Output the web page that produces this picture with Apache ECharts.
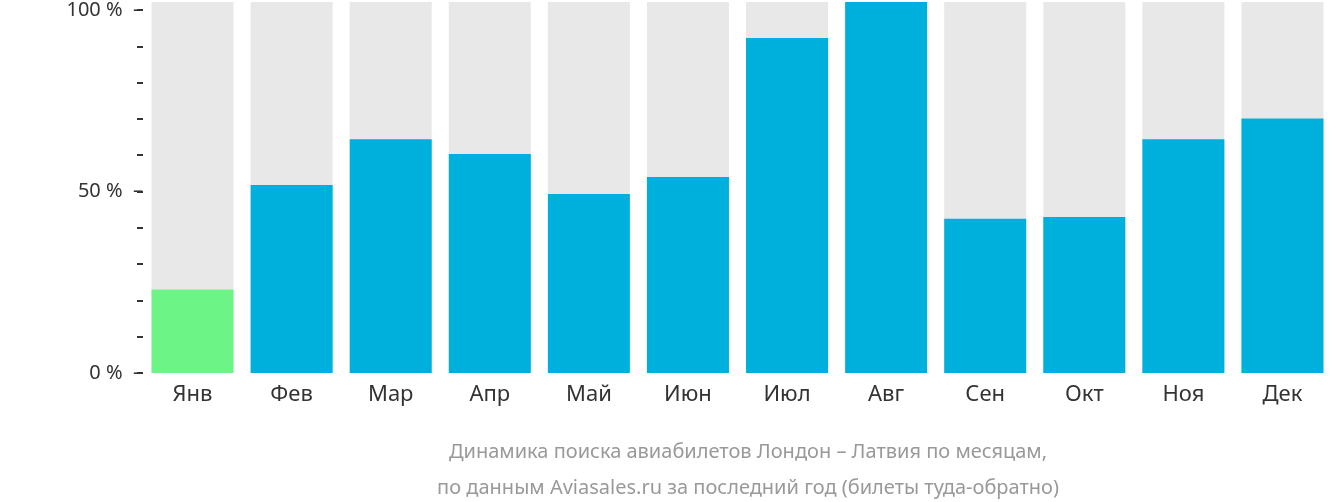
<!DOCTYPE html>
<html>
<head>
<meta charset="utf-8">
<script src="https://cdn.jsdelivr.net/npm/echarts@6/dist/echarts.min.js"></script>
<style>html,body{margin:0;padding:0;background:#fff}#chart{width:1332px;height:502px}</style>
</head>
<body>
<div id="chart"></div>
<script>
var months = ['Янв', 'Фев', 'Мар', 'Апр', 'Май', 'Июн', 'Июл', 'Авг', 'Сен', 'Окт', 'Ноя', 'Дек'];
var values = [23, 51.8, 64.4, 60.3, 49.3, 54, 92.3, 102.2, 42.5, 43, 64.4, 70.1];
var lowMonth = 0;
var yTicks = [0, 10, 20, 30, 40, 50, 60, 70, 80, 90, 100];
var yLabels = [0, 50, 100];

var chart = echarts.init(document.getElementById('chart'));
var option = {
	animation: false,
	grid: { left: 143, right: -11, top: 0, bottom: 129, containLabel: false },
	title: {
		text: 'Динамика поиска авиабилетов Лондон – Латвия по месяцам,\nпо данным Aviasales.ru за последний год (билеты туда-обратно)',
		left: 743, textAlign: 'center', top: 429,
		textStyle: { color: '#999', fontSize: 20, fontWeight: 'normal', fontFamily: 'Noto Sans', lineHeight: 36 }
	},
	xAxis: {
		type: 'category',
		data: months,
		axisLine: { show: false },
		axisTick: { show: false },
		axisLabel: { color: '#333', fontSize: 22, fontFamily: 'Noto Sans', margin: 11 }
	},
	yAxis: {
		type: 'value', min: 0, max: 102.2,
		axisLine: { show: false },
		splitLine: { show: false },
		axisTick: { show: true, customValues: yTicks, length: 6, lineStyle: { color: '#333', width: 2 } },
		axisLabel: {
			customValues: yLabels, color: '#333', fontSize: 20, fontFamily: 'Noto Sans', margin: 0,
			formatter: function (v) { return v + ' %  –'; }
		}
	},
	series: [{
		type: 'bar',
		barWidth: 82,
		showBackground: true,
		backgroundStyle: { color: '#e8e8e8' },
		data: values.map(function (v, i) {
			return { value: v, itemStyle: { color: i === lowMonth ? '#6cf586' : '#00b0dc' } };
		})
	}]
};
chart.setOption(option);
</script>
</body>
</html>
